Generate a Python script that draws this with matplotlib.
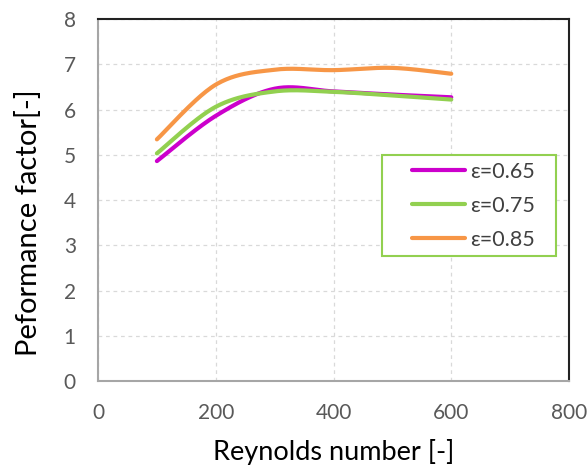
import numpy as np
from matplotlib import pyplot as plt
from matplotlib.patches import Rectangle

# Reynolds numbers and performance factor for each porosity
reynolds = [100, 200, 300, 400, 500, 600]
pf_065 = [4.86, 5.86, 6.46, 6.40, 6.33, 6.27]
pf_075 = [5.03, 6.06, 6.40, 6.39, 6.31, 6.22]
pf_085 = [5.34, 6.55, 6.88, 6.87, 6.92, 6.79]

labels = ["ε=0.65", "ε=0.75", "ε=0.85"]
colors = ["#cc00cc", "#92d050", "#f79646"]

plt.rcParams['font.family'] = ['Lato', 'DejaVu Sans']


def smooth(x, y, n=40):
    # Catmull-Rom style bezier through the points (spreadsheet "smoothed line")
    x = np.asarray(x, float)
    y = np.asarray(y, float)
    px = np.concatenate([[x[0]], x, [x[-1]]])
    py = np.concatenate([[y[0]], y, [y[-1]]])
    xs, ys = [], []
    for i in range(1, len(px) - 2):
        p0 = np.array([px[i], py[i]])
        p3 = np.array([px[i + 1], py[i + 1]])
        p1 = p0 + (np.array([px[i + 1], py[i + 1]]) - np.array([px[i - 1], py[i - 1]])) / 6
        p2 = p3 - (np.array([px[i + 2], py[i + 2]]) - np.array([px[i], py[i]])) / 6
        t = np.linspace(0, 1, n)[:, None]
        pts = ((1 - t) ** 3) * p0 + 3 * ((1 - t) ** 2) * t * p1 + 3 * (1 - t) * t ** 2 * p2 + t ** 3 * p3
        xs.append(pts[:, 0])
        ys.append(pts[:, 1])
    return np.concatenate(xs), np.concatenate(ys)


fig = plt.figure(figsize=(5.88, 4.66), dpi=100)
ax = fig.add_axes([0.1667, 0.1824, 0.8010, 0.7768])

for ys, lab, col in zip([pf_065, pf_075, pf_085], labels, colors):
    sx, sy = smooth(reynolds, ys)
    ax.plot(sx, sy, color=col, lw=3, label=lab, solid_capstyle='round')

ax.set_xlim(0, 800)
ax.set_ylim(0, 8)
ax.set_xticks([0, 200, 400, 600, 800])
ax.set_yticks(range(0, 9))
ax.grid(True, color='#d9d9d9', linestyle=(0, (3, 3)), lw=0.9)
ax.set_axisbelow(True)

ax.tick_params(length=0, labelsize=15, labelcolor='#595959', pad=16)
for s in ['left', 'bottom']:
    ax.spines[s].set_color('#a6a6a6')
    ax.spines[s].set_linewidth(1.5)
for s in ['top', 'right']:
    ax.spines[s].set_color('#222222')
    ax.spines[s].set_linewidth(1.5)

ax.set_xlabel('Reynolds number [-]', fontsize=19.5, labelpad=11)
ax.set_ylabel('Peformance factor[-]', fontsize=21)
ax.yaxis.set_label_coords(-0.118, 0.436)

# legend box: wider side padding than matplotlib's symmetric borderpad
box = Rectangle((0.6023, 0.345), 0.3694, 0.279, transform=ax.transAxes,
                facecolor='white', edgecolor='#92d050', lw=1.5, zorder=4)
ax.add_patch(box)
leg = ax.legend(loc='center', bbox_to_anchor=(0.797, 0.484), fontsize=15.5,
                frameon=False, handlelength=2.45, handletextpad=0.25,
                labelspacing=0.66, borderpad=0, borderaxespad=0)
for t in leg.get_texts():
    t.set_color('#404040')

fig.savefig('out.png', dpi=100)
